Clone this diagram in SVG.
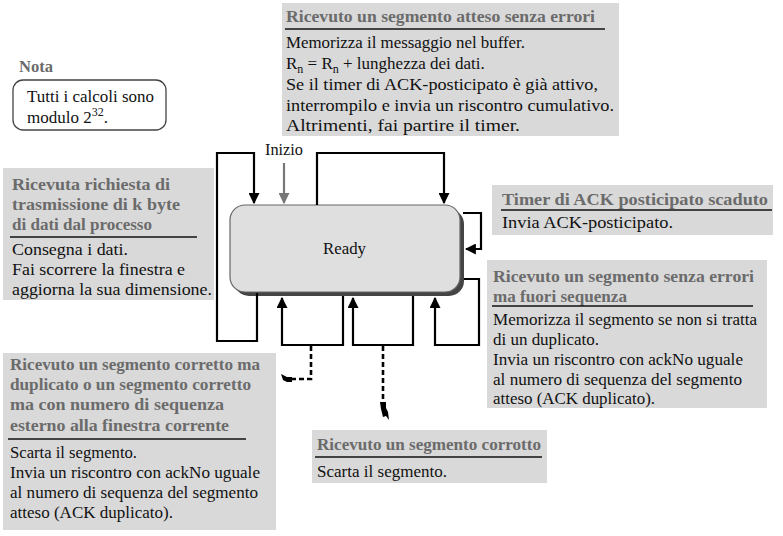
<svg xmlns="http://www.w3.org/2000/svg" width="783" height="536" viewBox="0 0 783 536" font-family="'Liberation Serif', 'Times New Roman', 'DejaVu Serif', serif">
<defs>
<style>
text{font-family:'Liberation Serif','Times New Roman','DejaVu Serif',serif;}
.b{font-size:17px;fill:#111;}
.t{font-size:17px;font-weight:bold;fill:#6b6b6b;}
.box{fill:#d9d9d9;}
.ul{stroke:#111;stroke-width:1.6;}
.ln{fill:none;stroke:#000;stroke-width:2.2;}
.dash{fill:none;stroke:#000;stroke-width:2.6;stroke-dasharray:5,3;}
</style>
<marker id="ah" viewBox="0 0 10 10" refX="9" refY="5" markerWidth="5" markerHeight="5" orient="auto"><path d="M0,0L10,5L0,10z" fill="#000"/></marker>
<marker id="ahg" viewBox="0 0 10 10" refX="9" refY="5" markerWidth="5" markerHeight="5" orient="auto"><path d="M0,0L10,5L0,10z" fill="#777"/></marker>
</defs>
<rect width="783" height="536" fill="#fff"/>

<g id="nota">
<text x="19" y="72" class="t" style="font-size:16px" textLength="34" lengthAdjust="spacingAndGlyphs">Nota</text>
<rect x="13" y="80" width="153" height="50" rx="10" fill="#fff" stroke="#444" stroke-width="1.3"/>
<text x="27" y="102" class="b" textLength="127" lengthAdjust="spacingAndGlyphs">Tutti i calcoli sono</text>
<text x="27" y="123" class="b">modulo 2<tspan dy="-7" font-size="12">32</tspan><tspan dy="7">.</tspan></text>
</g>

<g id="ready">
<rect x="234" y="209" width="230" height="87" rx="15" fill="#444"/>
<rect x="230" y="205" width="230" height="87" rx="15" fill="#dfdfdf" stroke="#666" stroke-width="1.2"/>
<text x="323" y="254" class="b" textLength="43" lengthAdjust="spacingAndGlyphs">Ready</text>
</g>

<g id="inizio">
<text x="265" y="155" class="b" textLength="38" lengthAdjust="spacingAndGlyphs">Inizio</text>
<line x1="284" y1="163" x2="284" y2="203" stroke="#777" stroke-width="2.2" marker-end="url(#ahg)"/>
</g>

<g id="connectors">
<polyline class="ln" points="257,293 257,341 217,341 217,153 254,153 254,203" marker-end="url(#ah)"/>
<polyline class="ln" points="317,205 317,153 444,153 444,203" marker-end="url(#ah)"/>
<polyline class="ln" points="463,213 481,213 481,249 466,249" marker-end="url(#ah)"/>
<polyline class="ln" points="464,279 479,279 479,345 435,345 435,298" marker-end="url(#ah)"/>
<polyline class="ln" points="343,296 343,345 282,345 282,298" marker-end="url(#ah)"/>
<polyline class="ln" points="413,296 413,345 353,345 353,298" marker-end="url(#ah)"/>
<polyline class="dash" points="311,346 311,379 292,379"/>
<line class="dash" x1="383" y1="346" x2="383" y2="402"/>
<path d="M281,374 l6,3 l5,0 l0,5 l-5,0 l-4,-2 z" fill="#000"/>
<path d="M380,402 l6,0 l0,6 l2,4 l1,8 l-3,-4 l-3,1 l-2,-8 z" fill="#000"/>
</g>

<g id="n-atteso">
<rect class="box" x="282" y="3" width="337" height="133"/>
<text x="286" y="22" class="t" textLength="309" lengthAdjust="spacingAndGlyphs">Ricevuto un segmento atteso senza errori</text>
<line class="ul" x1="285" y1="29" x2="605" y2="29"/>
<text x="286" y="48" class="b" textLength="239" lengthAdjust="spacingAndGlyphs">Memorizza il messaggio nel buffer.</text>
<text x="286" y="69" class="b">R<tspan dy="4" font-size="12">n</tspan><tspan dy="-4"> = R</tspan><tspan dy="4" font-size="12">n</tspan><tspan dy="-4"> + lunghezza dei dati.</tspan></text>
<text x="286" y="90" class="b" textLength="312" lengthAdjust="spacingAndGlyphs">Se il timer di ACK-posticipato è già attivo,</text>
<text x="286" y="111" class="b" textLength="328" lengthAdjust="spacingAndGlyphs">interrompilo e invia un riscontro cumulativo.</text>
<text x="286" y="131" class="b" textLength="234" lengthAdjust="spacingAndGlyphs">Altrimenti, fai partire il timer.</text>
</g>

<g id="n-richiesta">
<rect class="box" x="3" y="168" width="211" height="132"/>
<text x="12" y="190" class="t" textLength="158" lengthAdjust="spacingAndGlyphs">Ricevuta richiesta di</text>
<text x="12" y="210" class="t" textLength="168" lengthAdjust="spacingAndGlyphs">trasmissione di k byte</text>
<text x="12" y="230" class="t" textLength="140" lengthAdjust="spacingAndGlyphs">di dati dal processo</text>
<line class="ul" x1="10" y1="237" x2="197" y2="237"/>
<text x="12" y="255" class="b" textLength="116" lengthAdjust="spacingAndGlyphs">Consegna i dati.</text>
<text x="12" y="275" class="b" textLength="173" lengthAdjust="spacingAndGlyphs">Fai scorrere la finestra e</text>
<text x="12" y="295" class="b" textLength="200" lengthAdjust="spacingAndGlyphs">aggiorna la sua dimensione.</text>
</g>

<g id="n-timer">
<rect class="box" x="492" y="185" width="281" height="50"/>
<text x="502" y="205" class="t" textLength="266" lengthAdjust="spacingAndGlyphs">Timer di ACK posticipato scaduto</text>
<line class="ul" x1="501" y1="210" x2="772" y2="210"/>
<text x="502" y="228" class="b" textLength="171" lengthAdjust="spacingAndGlyphs">Invia ACK-posticipato.</text>
</g>

<g id="n-fuori">
<rect class="box" x="487" y="260" width="280" height="148"/>
<text x="493" y="282" class="t" textLength="261" lengthAdjust="spacingAndGlyphs">Ricevuto un segmento senza errori</text>
<text x="493" y="302" class="t" textLength="134" lengthAdjust="spacingAndGlyphs">ma fuori sequenza</text>
<line class="ul" x1="492" y1="306" x2="753" y2="306"/>
<text x="493" y="325" class="b" textLength="264" lengthAdjust="spacingAndGlyphs">Memorizza il segmento se non si tratta</text>
<text x="493" y="345" class="b" textLength="106" lengthAdjust="spacingAndGlyphs">di un duplicato.</text>
<text x="493" y="365" class="b" textLength="250" lengthAdjust="spacingAndGlyphs">Invia un riscontro con ackNo uguale</text>
<text x="493" y="385" class="b" textLength="249" lengthAdjust="spacingAndGlyphs">al numero di sequenza del segmento</text>
<text x="493" y="404" class="b" textLength="162" lengthAdjust="spacingAndGlyphs">atteso (ACK duplicato).</text>
</g>

<g id="n-duplicato">
<rect class="box" x="3" y="353" width="273" height="177"/>
<text x="10" y="370" class="t" textLength="250" lengthAdjust="spacingAndGlyphs">Ricevuto un segmento corretto ma</text>
<text x="10" y="390" class="t" textLength="241" lengthAdjust="spacingAndGlyphs">duplicato o un segmento corretto</text>
<text x="10" y="410" class="t" textLength="214" lengthAdjust="spacingAndGlyphs">ma con numero di sequenza</text>
<text x="10" y="431" class="t" textLength="219" lengthAdjust="spacingAndGlyphs">esterno alla finestra corrente</text>
<line class="ul" x1="8" y1="439" x2="246" y2="439"/>
<text x="10" y="458" class="b" textLength="127" lengthAdjust="spacingAndGlyphs">Scarta il segmento.</text>
<text x="10" y="478" class="b" textLength="250" lengthAdjust="spacingAndGlyphs">Invia un riscontro con ackNo uguale</text>
<text x="10" y="498" class="b" textLength="248" lengthAdjust="spacingAndGlyphs">al numero di sequenza del segmento</text>
<text x="10" y="518" class="b" textLength="163" lengthAdjust="spacingAndGlyphs">atteso (ACK duplicato).</text>
</g>

<g id="n-corrotto">
<rect class="box" x="312" y="430" width="235" height="53"/>
<text x="317" y="450" class="t" textLength="224" lengthAdjust="spacingAndGlyphs">Ricevuto un segmento corrotto</text>
<line class="ul" x1="315" y1="457" x2="542" y2="457"/>
<text x="317" y="477" class="b" textLength="130" lengthAdjust="spacingAndGlyphs">Scarta il segmento.</text>
</g>
</svg>
